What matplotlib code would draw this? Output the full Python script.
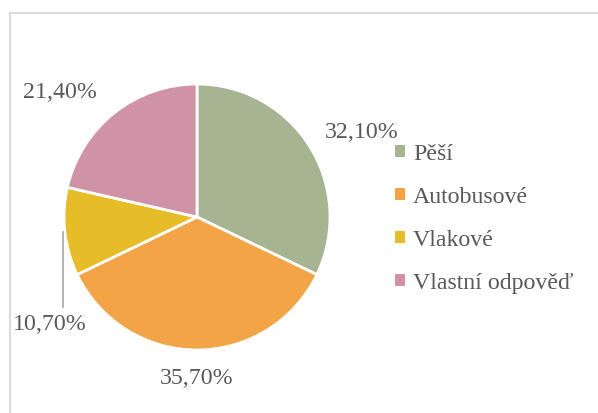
import matplotlib.pyplot as plt
from matplotlib.patches import Patch

# data
categories = ['Pěší', 'Autobusové', 'Vlakové', 'Vlastní odpověď']
shares = [32.1, 35.7, 10.7, 21.4]
colors = ['#a5b592', '#f3a447', '#e7bc29', '#d092a7']

plt.rcParams['font.family'] = ['Liberation Serif', 'DejaVu Serif']
text_color = '#595959'
fs = 17.2

fig = plt.figure(figsize=(5.98, 4.13), dpi=100)
ax = fig.add_axes([0, 0, 1, 1])

cx, cy, r = 197, 196, 133
ax.pie(shares, colors=colors, startangle=90, counterclock=False,
       center=(cx, cy), radius=r, frame=True,
       wedgeprops=dict(edgecolor='white', linewidth=2))
ax.set_xlim(0, 598)
ax.set_ylim(0, 413)
ax.set_aspect('equal')
ax.axis('off')

# chart area border (left and top edges only)
ax.plot([9.5, 9.5], [0, 400], color='#d9d9d9', lw=1.5)
ax.plot([9.5, 598], [400, 400], color='#d9d9d9', lw=1.5)

# data labels
label_pos = [(362, 280), (197, 35), (50, 88), (60, 321)]
for v, (x, y) in zip(shares, label_pos):
    ax.text(x, y, f'{v:.2f}%'.replace('.', ','), ha='center', va='center',
            fontsize=fs, color=text_color)

# leader line for the small slice
ax.plot([63, 63], [181, 106], color='#a6a6a6', lw=1.2)

handles = [Patch(facecolor=c, edgecolor='none') for c in colors]
leg = ax.legend(handles, categories, loc='upper left',
                bbox_to_anchor=(395 / 598, 1 - 144 / 413),
                frameon=False, fontsize=fs, handlelength=0.4, handleheight=0.4,
                handletextpad=0.35, labelspacing=0.92, borderaxespad=0, borderpad=0)
for t in leg.get_texts():
    t.set_color(text_color)

fig.savefig('out.png', dpi=100)
